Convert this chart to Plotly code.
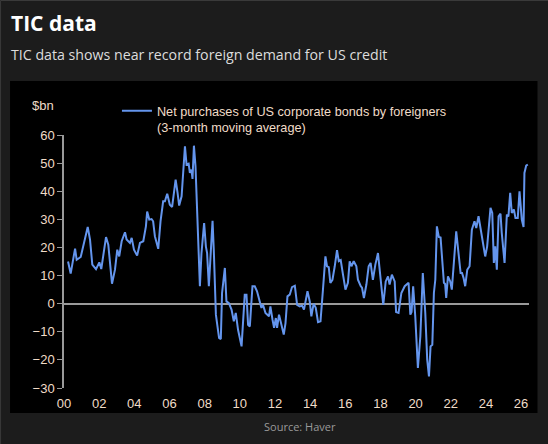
import plotly.graph_objects as go

# net purchases of US corporate bonds by foreigners, $bn, 3m avg (years since 2000)
years = [0.23, 0.38, 0.63, 0.72, 0.95, 1.10, 1.35, 1.48, 1.61, 1.82, 2.01, 2.12, 2.23, 2.39, 2.52,
         2.73, 2.90, 3.03, 3.14, 3.28, 3.47, 3.56, 3.75, 3.85, 3.98, 4.16, 4.32, 4.51, 4.66, 4.73,
         4.85, 4.98, 5.07, 5.17, 5.36, 5.49, 5.64, 5.74, 5.87, 6.02, 6.15, 6.35, 6.46, 6.55, 6.69,
         6.88, 6.97, 7.09, 7.16, 7.25, 7.31, 7.39, 7.48, 7.57, 7.73, 7.82, 7.97, 8.07, 8.14, 8.24,
         8.35, 8.45, 8.52, 8.64, 8.73, 8.82, 8.92, 8.99, 9.15, 9.24, 9.38, 9.53, 9.66, 9.77, 9.90,
         10.10, 10.28, 10.38, 10.47, 10.57, 10.72, 10.85, 10.98, 11.14, 11.23, 11.32, 11.46, 11.66,
         11.74, 11.86, 11.95, 12.05, 12.12, 12.23, 12.37, 12.50, 12.60, 12.71, 12.84, 12.97, 13.13,
         13.26, 13.41, 13.54, 13.65, 13.85, 13.98, 14.07, 14.20, 14.32, 14.45, 14.59, 14.73, 14.87,
         14.96, 15.06, 15.15, 15.27, 15.40, 15.53, 15.63, 15.74, 15.87, 16.01, 16.15, 16.25, 16.35,
         16.48, 16.63, 16.72, 16.88, 16.95, 17.06, 17.20, 17.33, 17.44, 17.57, 17.71, 17.86, 17.97,
         18.16, 18.30, 18.43, 18.52, 18.65, 18.81, 18.89, 19.03, 19.19, 19.38, 19.51, 19.60, 19.70,
         19.77, 19.86, 19.98, 20.13, 20.27, 20.41, 20.55, 20.66, 20.76, 20.85, 20.95, 21.04, 21.12,
         21.21, 21.32, 21.42, 21.55, 21.61, 21.68, 21.74, 21.84, 21.97, 22.06, 22.18, 22.31, 22.40,
         22.56, 22.64, 22.73, 22.82, 22.94, 23.07, 23.20, 23.35, 23.45, 23.58, 23.69, 23.82, 23.96,
         24.07, 24.26, 24.36, 24.45, 24.53, 24.62, 24.72, 24.83, 24.90, 25.06, 25.19, 25.28, 25.38,
         25.47, 25.59, 25.68, 25.81, 25.91, 26.04, 26.14, 26.19, 26.29, 26.38]
purchases = [15.0, 10.7, 19.6, 15.6, 16.6, 20.4, 27.3, 22.8, 13.9, 12.3, 14.7, 12.3, 16.8, 23.7, 21.0,
             7.1, 12.1, 19.2, 16.8, 22.2, 25.4, 22.8, 21.6, 23.4, 19.2, 17.1, 21.6, 22.2, 27.5, 32.8,
             29.9, 30.1, 29.3, 24.0, 19.5, 29.3, 36.4, 36.4, 39.1, 35.2, 34.4, 44.1, 39.4, 34.9, 38.2,
             56.0, 49.5, 49.8, 46.5, 47.7, 44.4, 56.2, 48.9, 32.3, 6.2, 18.0, 28.7, 20.4, 18.0, 6.2,
             20.4, 29.5, 19.2, -3.9, -8.1, -12.2, -12.6, 3.8, 12.7, 0.8, 0.2, -2.1, -6.3, -3.3, -9.3,
             -15.2, 3.2, 3.2, -7.5, -8.1, 6.2, 6.2, 4.4, 0.2, -1.5, -0.4, -3.3, -4.5,
             -1.0, -5.7, -8.6, -5.1, -8.6, -3.9, -8.1, -11.0, -6.9, 2.6, 3.2, 5.9, 6.4,
             -0.4, -1.0, -0.7, -2.1, 4.4, 0.8, -4.5, 0.0, -1.5, -6.6, -6.3, 5.0, 16.8,
             13.3, 13.0, 7.4, 8.5, 13.3, 19.0, 15.1, 15.5, 10.3, 5.0, 7.4, 15.1, 13.3,
             15.1, 13.3, 8.5, 6.2, 5.7, 2.0, 6.8, 13.3, 14.5, 8.5, 13.9, 18.0, 11.5,
             -0.4, 7.9, 9.7, 6.8, 10.3, 7.9, -3.0, -3.3, 3.8, 6.2, 7.0, 7.4, -3.9,
             -3.0, 6.2, -4.5, -22.9, -11.6, 10.9, -3.3, -19.9, -25.9, -15.2, -14.6, 3.8, 8.5,
             27.5, 23.7, 23.5, 13.3, 7.4, 7.0, 2.0, 9.7, 7.9, 5.0, 15.7, 25.7, 20.4,
             10.9, 10.9, 9.1, 6.2, 12.1, 13.3, 26.3, 29.3, 26.9, 31.1, 26.9, 22.8, 16.8,
             20.4, 34.1, 32.3, 14.5, 20.4, 12.1, 31.1, 32.0, 25.2, 14.5, 31.7, 31.0, 39.4,
             32.3, 33.5, 30.5, 30.5, 40.0, 29.9, 27.3, 46.5, 49.1, 49.5]

tick_years = list(range(0, 27, 2))
tick_text = ["%02d" % y for y in tick_years]
y_ticks = [-30, -20, -10, 0, 10, 20, 30, 40, 50, 60]

W, H = 548, 444
L, R, T, B = 64, 18.5, 135, 56


def px(x):
    return (x - L) / (W - L - R)


def py(y):
    return (H - B - y) / (H - T - B)


label_col = "#f0dcc8"
axis_font = dict(family="Liberation Sans, Arial, sans-serif", size=13, color=label_col)

fig = go.Figure()
fig.add_trace(go.Scatter(
    x=years, y=purchases, mode="lines",
    name="Net purchases of US corporate bonds by foreigners<br>(3-month moving average)",
    line=dict(color="#6495ed", width=2),
))

shapes = [
    # card border
    dict(type="rect", xref="paper", yref="paper", x0=px(0.5), x1=px(620), y0=py(0.5), y1=py(520),
         line=dict(color="#3a3a3a", width=1), fillcolor="#1c1c1c", layer="below"),
    # black chart panel
    dict(type="rect", xref="paper", yref="paper", x0=px(10), x1=px(538), y0=py(81), y1=py(413),
         line=dict(width=0), fillcolor="#000000", layer="below"),
]

annotations = [
    dict(text="<b>TIC data</b>", x=px(9), y=py(23), xref="paper", yref="paper",
         xanchor="left", yanchor="middle", showarrow=False,
         font=dict(family="Open Sans, sans-serif", size=21, color="#ffffff")),
    dict(text="TIC data shows near record foreign demand for US credit", x=px(9), y=py(54),
         xref="paper", yref="paper", xanchor="left", yanchor="middle", showarrow=False,
         font=dict(family="Open Sans, sans-serif", size=14.2, color="#dddddd")),
    dict(text="$bn", x=px(56), y=py(105), xref="paper", yref="paper",
         xanchor="right", yanchor="middle", showarrow=False, font=axis_font),
    dict(text="Source: Haver", x=px(300), y=py(426), xref="paper", yref="paper",
         xanchor="center", yanchor="middle", showarrow=False,
         font=dict(family="Open Sans, sans-serif", size=11, color="#9a9a9a")),
]

fig.update_layout(
    width=W, height=H,
    margin=dict(l=L, r=R, t=T, b=B, pad=0),
    paper_bgcolor="#1c1c1c", plot_bgcolor="#000000",
    shapes=shapes, annotations=annotations,
    showlegend=True,
    legend=dict(x=px(117), y=py(96), xanchor="left", yanchor="top", valign="top",
                bgcolor="rgba(0,0,0,0)", font=dict(axis_font, size=12.7), itemwidth=30,
                tracegroupgap=0),
    xaxis=dict(range=[0, 26.45], tickvals=tick_years, ticktext=tick_text, showgrid=False,
               zeroline=False, showline=False, ticks="", tickfont=axis_font, ticklabelstandoff=6),
    yaxis=dict(range=[-30, 60], tickvals=y_ticks, showgrid=False, zeroline=True,
               zerolinecolor="#9a9a9a", zerolinewidth=1.5, showline=True, linecolor="#9a9a9a",
               linewidth=1.5, ticks="outside", ticklen=5, tickcolor="#9a9a9a", tickfont=axis_font),
)

# drop the browser's default body margin so the figure sits at the window corner
fig.write_html("out.html", config={"displayModeBar": False},
               post_script="document.body.style.margin='0';"
                           "document.body.style.background='#1c1c1c';")
